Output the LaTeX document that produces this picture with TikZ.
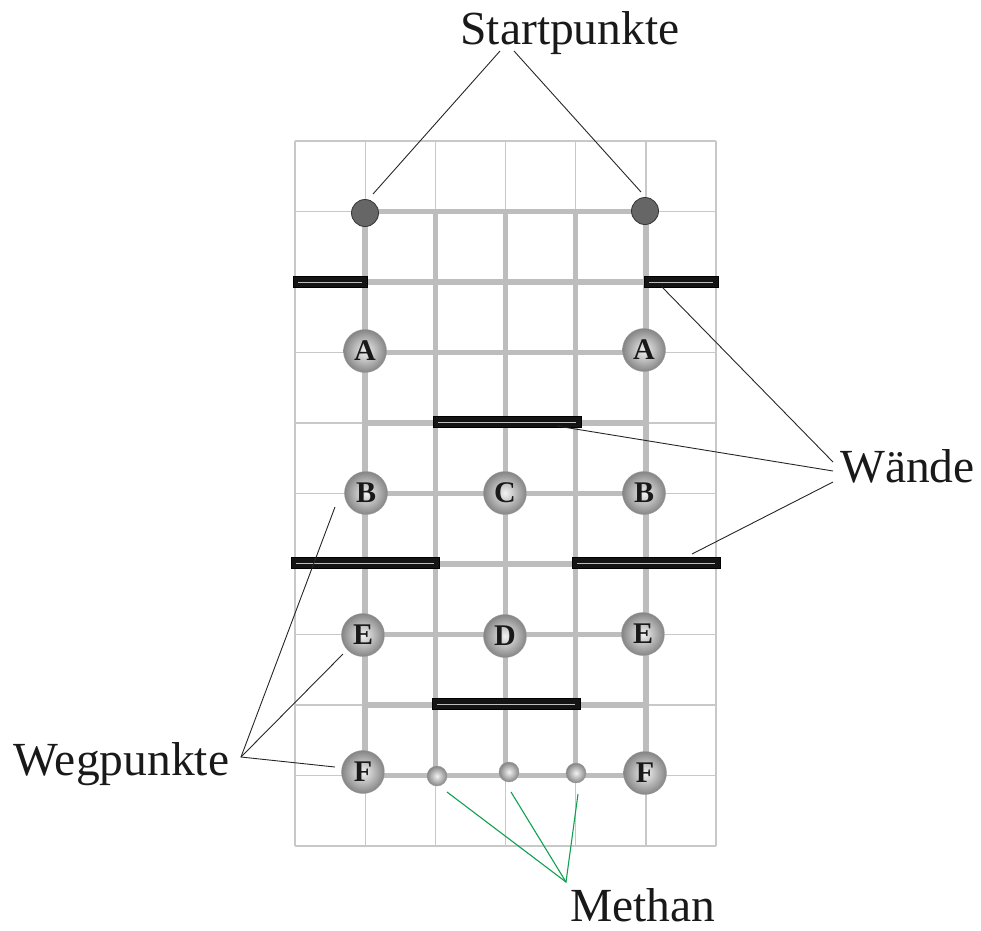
\documentclass[tikz,border=0pt]{standalone}
\usepackage{fontspec}
\setmainfont{Liberation Serif}
\definecolor{thingrid}{HTML}{C8C8C8}
\definecolor{pathgray}{HTML}{BDBDBD}
\definecolor{startgray}{HTML}{666666}
\definecolor{leadgreen}{HTML}{10A050}
\tikzset{
  thin grid line/.style={thingrid, line width=1.3pt},
  path line/.style={pathgray, line width=5.5pt},
  wallbar/.style={draw=black, fill=black!92, line width=0.4pt},
  wallcore/.style={gray!50, line width=0.9pt},
  startdot/.style={circle, minimum size=27pt, inner sep=0pt, fill=startgray, draw=black!80, line width=0.8pt},
  bigball/.style={circle, minimum size=43pt, inner sep=0pt, shading=radial, inner color=black!5, outer color=black!48, draw=black!40, line width=0.4pt, font=\fontsize{30}{30}\selectfont\bfseries, text=black!90},
  smallball/.style={circle, minimum size=20pt, inner sep=0pt, shading=radial, inner color=black!5, outer color=black!48, draw=black!40, line width=0.4pt},
  leader/.style={black!85, line width=0.9pt},
  greenleader/.style={leadgreen, line width=1.1pt},
  biglabel/.style={font=\fontsize{47.5}{50}\selectfont, inner sep=0pt, anchor=base, text=black!90}
}
\begin{document}
\begin{tikzpicture}[x=1pt, y=-1pt]
\useasboundingbox (0,0) rectangle (981,930);
% thin grid
\foreach \i in {0,...,6}{
  \draw[thin grid line] ({295+70.17*\i},141) -- ({295+70.17*\i},846);
}
\foreach \j in {0,...,10}{
  \draw[thin grid line] (295,{141+70.5*\j}) -- (716,{141+70.5*\j});
}
% thick path grid
\foreach \i in {1,...,5}{
  \draw[path line] ({295+70.17*\i},{141+70.5}) -- ({295+70.17*\i},{141+70.5*9});
}
\foreach \j in {1,...,9}{
  \draw[path line] ({295+70.17},{141+70.5*\j}) -- ({295+70.17*5},{141+70.5*\j});
}
% walls
\foreach \xa/\xb/\y in {293/367/282, 644/718/282, 433/581/422, 291/439/563, 572/720/563, 432/580/704}{
  \filldraw[wallbar] (\xa,\y-5.5) rectangle (\xb,\y+5.5);
  \draw[wallcore] (\xa+5,\y) -- (\xb-5,\y);
}
% start points
\node[startdot] (S1) at (365,213) {};
\node[startdot] (S2) at (645,211) {};
% waypoints
\node[bigball] (A1) at (365,351) {A};
\node[bigball] (A2) at (644,350) {A};
\node[bigball] (B1) at (366,493) {B};
\node[bigball] (C) at (505,493) {C};
\node[bigball] (B2) at (644,493) {B};
\node[bigball] (E1) at (363,635) {E};
\node[bigball] (D) at (505,636) {D};
\node[bigball] (E2) at (643,634) {E};
\node[bigball] (F1) at (363,772) {F};
\node[bigball] (F2) at (645,773) {F};
% methane
\node[smallball] (M1) at (437,776) {};
\node[smallball] (M2) at (509,772) {};
\node[smallball] (M3) at (576,773) {};
% labels
\node[biglabel] (startlbl) at (570,44) {Startpunkte};
\node[biglabel] (waendelbl) at (907.5,482) {Wände};
\node[biglabel] (weglbl) at (121.5,775) {Wegpunkte};
\node[biglabel] (methanlbl) at (643,921) {Methan};
% leader coordinates
\coordinate (stL) at (500,51);
\coordinate (stR) at (514,51);
\coordinate (stLend) at (373,194);
\coordinate (stRend) at (641,192);
\coordinate (wa1) at (833,462);
\coordinate (wa2) at (833,471);
\coordinate (wa3) at (833,482);
\coordinate (wt1) at (662,287);
\coordinate (wt2) at (557,426);
\coordinate (wt3) at (692,554);
\coordinate (wp) at (241,757);
\coordinate (wpB) at (335,507);
\coordinate (wpE) at (343,654);
\coordinate (wpF) at (335,767);
\coordinate (me) at (566,882);
\coordinate (me1) at (447,792);
\coordinate (me2) at (511,792);
\coordinate (me3) at (578,794);
% leaders
\draw[leader] (stL) -- (stLend);
\draw[leader] (stR) -- (stRend);
\draw[leader] (wa1) -- (wt1);
\draw[leader] (wa2) -- (wt2);
\draw[leader] (wa3) -- (wt3);
\draw[leader] (wpB) -- (wp) -- (wpF);
\draw[leader] (wp) -- (wpE);
\draw[greenleader] (me1) -- (me) -- (me3);
\draw[greenleader] (me) -- (me2);
\end{tikzpicture}
\end{document}
